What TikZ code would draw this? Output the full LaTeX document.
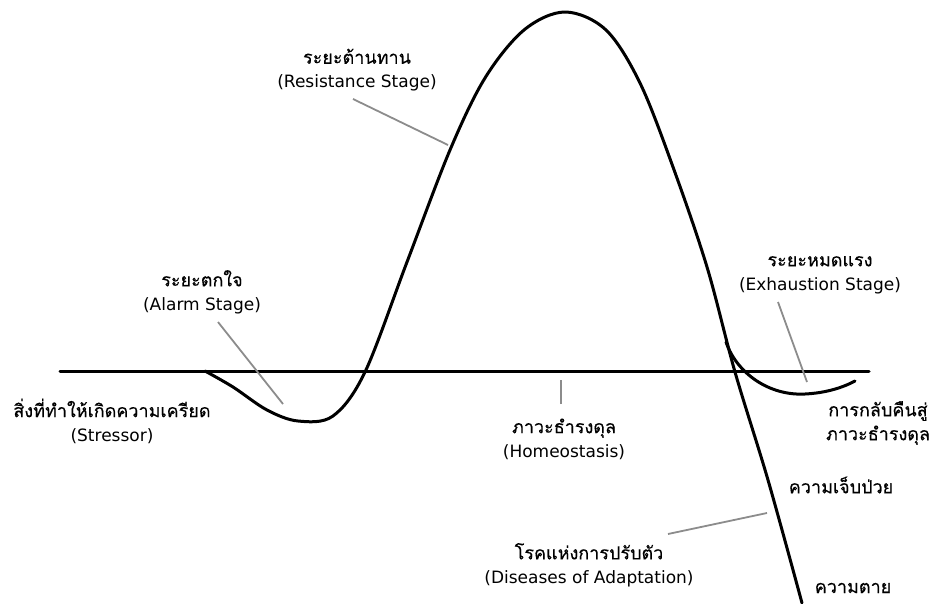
\documentclass[tikz,border=0pt]{standalone}
\usepackage{fontspec}
\setmainfont[Script=Thai,FakeBold=0.35]{Loma}
\newfontfamily\latfont{DejaVu Sans}
\newcommand\entxt[1]{{\latfont\fontsize{17}{24}\selectfont #1}}
\definecolor{ptrgray}{HTML}{8C8C8C}
\begin{document}
\begin{tikzpicture}[x=1pt,y=-1pt,
  curve/.style={line width=3pt,black,line cap=round,line join=round},
  pointer/.style={line width=1.8pt,ptrgray},
  lbl/.style={font=\fontsize{18}{24}\selectfont,align=center,inner sep=0pt}]
\useasboundingbox (0,0) rectangle (935,603);
% baseline
\coordinate (bl) at (60,371);
\coordinate (br) at (869,371);
\draw[curve] (bl) -- (br);
% main stress curve
\draw[curve] plot[smooth,tension=0.55] coordinates {
 (205,371) (233,387) (267,410) (298,421) (333,416) (365,372) (407,262) (450,150)
 (485,78) (524,30) (565,12) (606,30) (640,83) (673,167) (707,267) (735,372)
 (768,480) (802,603)};
% exhaustion branch
\draw[curve] (726,342) .. controls (737,374) and (770,396) .. (805,394)
  .. controls (825,393) and (842,388) .. (855,381);
% labels
\node[lbl] (res) at (357,70) {ระยะต้านทาน\\\entxt{(Resistance Stage)}};
\node[lbl] (alarm) at (202,292) {ระยะตกใจ\\\entxt{(Alarm Stage)}};
\node[lbl] (stress) at (112,421) {สิ่งที่ทำให้เกิดความเครียด\\\entxt{(Stressor)}};
\node[lbl] (homeo) at (564,439) {ภาวะธำรงดุล\\\entxt{(Homeostasis)}};
\node[lbl] (exh) at (820,275) {ระยะหมดแรง\\\entxt{(Exhaustion Stage)}};
\node[lbl] (ret) at (878,423) {การกลับคืนสู่\\ภาวะธำรงดุล};
\node[lbl] (ill) at (841,485) {ความเจ็บป่วย};
\node[lbl] (dis) at (589,565) {โรคแห่งการปรับตัว\\\entxt{(Diseases of Adaptation)}};
\node[lbl] (death) at (853,588) {ความตาย};
% pointer ends
\coordinate (alarmE) at (283,404);
\coordinate (resE) at (448,145);
\coordinate (homeoE) at (561,380);
\coordinate (exhE) at (807,382);
\coordinate (disE) at (767,513);
\draw[pointer] (218,322) -- (alarmE);
\draw[pointer] (353,99) -- (resE);
\draw[pointer] (561,404) -- (homeoE);
\draw[pointer] (778,302) -- (exhE);
\draw[pointer] (668,534) -- (disE);
\end{tikzpicture}
\end{document}
